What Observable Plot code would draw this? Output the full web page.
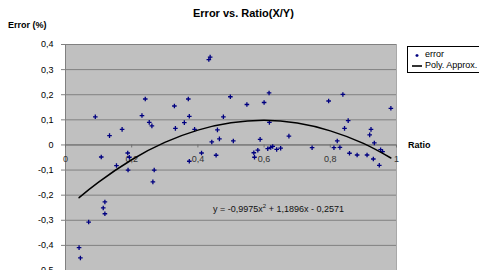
<!DOCTYPE html>
<html><head><meta charset="utf-8">
<script src="https://cdn.jsdelivr.net/npm/d3@7"></script>
<script src="https://cdn.jsdelivr.net/npm/@observablehq/plot@0.6"></script>
<style>
body{margin:0;background:#fff;font-family:"Liberation Sans",Arial,sans-serif;}
#wrap{position:relative;width:479px;height:270px;overflow:hidden;background:#fff;}
.abs{position:absolute;white-space:nowrap;line-height:1;color:#000;}
</style></head><body>
<div id="wrap">
<div id="chart"></div>
<div class="abs" style="left:193px;top:8px;font-weight:bold;font-size:11px">Error vs. Ratio(X/Y)</div>
<div class="abs" style="left:8px;top:21px;font-weight:bold;font-size:9px">Error (%)</div>
<div class="abs" style="left:408px;top:141px;font-weight:bold;font-size:9px">Ratio</div>
<div class="abs" style="left:213px;top:205px;font-size:9px;color:#111">y = -0,9975x<sup style="font-size:6px;vertical-align:4px;line-height:0">2</sup> + 1,1896x - 0,2571</div>
<div class="abs" style="left:407px;top:46px;width:80px;height:25px;border:1px solid #000;background:#fff;font-size:9px">
  <svg style="position:absolute;left:4px;top:4px" width="10" height="20">
    <path d="M3.5,4.5h3M5,3v3" stroke="#000080" stroke-width="1.3"/>
    <line x1="-2" y1="15" x2="11" y2="15" stroke="#000" stroke-width="1.6"/>
  </svg>
  <div class="abs" style="left:17px;top:3px">error</div>
  <div class="abs" style="left:17px;top:14px">Poly. Approx.</div>
</div>
</div>
<script>
const ratio = [0.041,0.045,0.070,0.090,0.108,0.114,0.119,0.119,0.133,0.154,0.171,0.188,0.193,0.189,0.231,0.241,0.253,0.261,0.268,0.264,0.329,0.332,0.359,0.371,0.374,0.374,0.390,0.411,0.433,0.437,0.442,0.455,0.459,0.465,0.477,0.498,0.507,0.548,0.569,0.571,0.581,0.588,0.600,0.615,0.616,0.611,0.620,0.626,0.638,0.650,0.675,0.745,0.795,0.811,0.821,0.829,0.838,0.843,0.854,0.858,0.881,0.911,0.919,0.923,0.930,0.933,0.948,0.952,0.958,0.983];
const error = [-0.409,-0.450,-0.307,0.112,-0.048,-0.251,-0.227,-0.274,0.037,-0.082,0.062,-0.032,-0.049,-0.100,0.117,0.183,0.090,0.076,-0.100,-0.147,0.155,0.066,0.089,0.183,0.114,-0.065,0.062,-0.032,0.340,0.350,0.012,-0.041,0.060,0.024,0.112,0.192,0.016,0.161,-0.031,-0.049,-0.021,0.022,0.169,0.207,0.090,-0.015,-0.010,-0.006,-0.018,-0.013,0.035,-0.011,0.175,-0.011,0.016,-0.010,0.201,0.066,0.097,-0.033,-0.040,-0.040,0.040,0.062,-0.056,0.008,-0.081,-0.019,-0.027,0.146];
const fitRatio = [0.041,0.1,0.2,0.3,0.4,0.5,0.6,0.7,0.8,0.9,0.983];
const fitError = [-0.210,-0.148,-0.059,0.010,0.059,0.088,0.098,0.087,0.056,0.006,-0.052];
const yTicks = [0.4,0.3,0.2,0.1,0,-0.1,-0.2,-0.3,-0.4,-0.5];
const yTickLabels = ["0,4","0,3","0,2","0,1","0","-0,1","-0,2","-0,3","-0,4","-0,5"];
const xTicks = [0,0.2,0.4,0.6,0.8,1];
const xTickLabels = ["0","0,2","0,4","0,6","0,8","1"];

const pts = ratio.map((r,i)=>({ratio:r, error:error[i]}));
const fit = fitRatio.map((r,i)=>({ratio:r, error:fitError[i]}));

const chart = Plot.plot({
  width:479, height:270,
  marginTop:44, marginBottom:0, marginLeft:65, marginRight:83,
  style:{fontFamily:"'Liberation Sans', Arial, sans-serif", background:"transparent"},
  x:{domain:[0,1], axis:null},
  y:{domain:[-0.5,0.4], axis:null},
  marks:[
    Plot.frame({fill:"#c0c0c0", stroke:"#a8a8a8"}),
    Plot.gridY(yTicks, {stroke:"#808080", strokeOpacity:1}),
    Plot.ruleX([0], {stroke:"#808080"}),
    Plot.ruleY([0], {stroke:"#707070"}),
    Plot.axisY(yTicks, {label:null, tickFormat:d=>yTickLabels[yTicks.indexOf(d)], tickSize:4, tickPadding:8, fontSize:9, fill:"#000", stroke:"#808080"}),
    Plot.ruleX(xTicks, {y1:0, y2:-0.012, stroke:"#707070"}),
    Plot.text(xTicks, {x:d=>d, y:0, dy:14, text:(d,i)=>xTickLabels[i], fontSize:9, fill:"#333"}),
    Plot.dot(pts, {x:"ratio", y:"error", symbol:"plus", r:1.6, stroke:"#000080", strokeWidth:1.3}),
    Plot.line(fit, {x:"ratio", y:"error", curve:"natural", stroke:"#000", strokeWidth:1.5})
  ]
});
document.getElementById("chart").appendChild(chart);
</script>
</body></html>
